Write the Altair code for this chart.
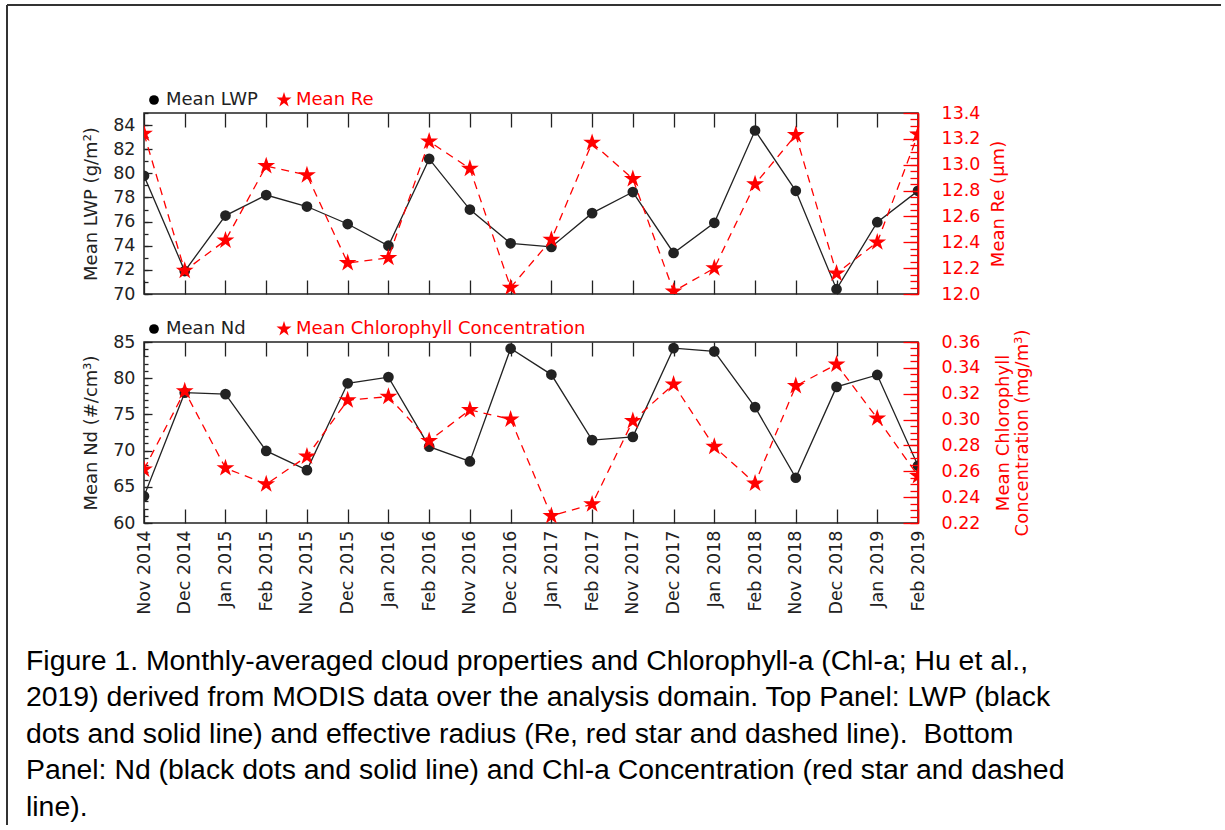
import altair as alt
import pandas as pd

# ---------------- data ----------------
months = ["Nov 2014", "Dec 2014", "Jan 2015", "Feb 2015", "Nov 2015", "Dec 2015",
          "Jan 2016", "Feb 2016", "Nov 2016", "Dec 2016", "Jan 2017", "Feb 2017",
          "Nov 2017", "Dec 2017", "Jan 2018", "Feb 2018", "Nov 2018", "Dec 2018",
          "Jan 2019", "Feb 2019"]
lwp = [79.8, 71.9, 76.5, 78.2, 77.25, 75.8, 74.0, 81.2, 77.0, 74.2,
       73.9, 76.7, 78.45, 73.4, 75.9, 83.55, 78.55, 70.4, 75.95, 78.55]
re = [13.24, 12.18, 12.415, 12.99, 12.92, 12.24, 12.28, 13.18, 12.97, 12.05,
      12.42, 13.17, 12.89, 12.02, 12.20, 12.85, 13.23, 12.16, 12.40, 13.235]
nd = [63.7, 78.0, 77.8, 69.95, 67.3, 79.3, 80.15, 70.55, 68.5, 84.1,
      80.5, 71.45, 71.9, 84.15, 83.7, 76.0, 66.25, 78.8, 80.45, 67.9]
chl = [0.2615, 0.322, 0.2625, 0.250, 0.2715, 0.315, 0.3177, 0.2835, 0.3075, 0.3002,
       0.2255, 0.2345, 0.299, 0.3273, 0.279, 0.2507, 0.326, 0.3427, 0.301, 0.2565]

lwp_major = [70, 72, 74, 76, 78, 80, 82, 84]
lwp_minor = list(range(70, 86))
re_major = [12.0, 12.2, 12.4, 12.6, 12.8, 13.0, 13.2, 13.4]
re_minor = [round(12.0 + 0.05 * k, 2) for k in range(29)]
nd_major = [60, 65, 70, 75, 80, 85]
nd_minor = list(range(60, 86))
chl_major = [0.22, 0.24, 0.26, 0.28, 0.30, 0.32, 0.34, 0.36]
chl_minor = [round(0.22 + 0.005 * k, 3) for k in range(29)]

caption = [
    "Figure 1. Monthly-averaged cloud properties and Chlorophyll-a (Chl-a; Hu et al.,",
    "2019) derived from MODIS data over the analysis domain. Top Panel: LWP (black",
    "dots and solid line) and effective radius (Re, red star and dashed line).\u00a0 Bottom",
    "Panel: Nd (black dots and solid line) and Chl-a Concentration (red star and dashed",
    "line).",
]

# ---------------- style ----------------
FONT = "DejaVu Sans"
CAPFONT = "Liberation Sans"
INK = "#222222"
RED = "#ff0000"
W, H = 774, 181
STAR = ("M0,-1L0.2245,-0.309L0.9511,-0.309L0.3633,0.118L0.5878,0.809L0,0.382"
        "L-0.5878,0.809L-0.3633,0.118L-0.9511,-0.309L-0.2245,-0.309Z")

df = pd.DataFrame({"month": months, "lwp": lwp, "re": re, "nd": nd, "chl": chl})
one = pd.DataFrame({"k": [0]})

xscale = alt.Scale(type="point", padding=0)


def xenc(axis):
    return alt.X("month:N", sort=months, scale=xscale, axis=axis)


def panel(lf, ldom, lmaj, lmin, lfmt, ltitle, rf, rdom, rmaj, rmin, rfmt, rtitle,
          rpad, lname, rname, xlabels, extra):
    base = alt.Chart(df)
    ysc_l = alt.Scale(domain=ldom, nice=False, zero=False)
    ysc_r = alt.Scale(domain=rdom, nice=False, zero=False)

    ax_bottom = alt.Axis(orient="bottom", offset=-14, tickSize=14, tickColor=INK,
                         tickWidth=1.3, domain=False, grid=False, labels=xlabels,
                         labelAngle=270, labelFont=FONT, labelFontSize=17.5,
                         labelColor=INK, labelPadding=7, labelOverlap=False, title=None)
    ax_top = alt.Axis(orient="top", offset=-14, tickSize=14, tickColor=INK,
                      tickWidth=1.3, domain=False, grid=False, labels=False, title=None)

    ax_l_major = alt.Axis(orient="left", offset=-8, tickSize=8, tickColor=INK,
                          tickWidth=1.3, domain=False, grid=False, values=lmaj,
                          format=lfmt, labelFont=FONT, labelFontSize=17.5,
                          labelColor=INK, labelPadding=9, title=ltitle,
                          titleFont=FONT, titleFontSize=18, titleFontWeight="normal",
                          titleColor=INK, titlePadding=12)
    ax_l_minor = alt.Axis(orient="left", offset=-4, tickSize=4, tickColor=INK,
                          tickWidth=1.3, domain=False, grid=False, values=lmin,
                          labels=False, title=None)
    ax_r_major = alt.Axis(orient="right", offset=-15, tickSize=15, tickColor=RED,
                          tickWidth=1.3, domain=False, grid=False, values=rmaj,
                          format=rfmt, labelFont=FONT, labelFontSize=17.5,
                          labelColor=RED, labelPadding=23, title=rtitle,
                          titleFont=FONT, titleFontSize=18, titleFontWeight="normal",
                          titleColor=RED, titleAngle=270, titleBaseline="top",
                          titlePadding=rpad, titleLineHeight=19, zindex=1)
    ax_r_minor = alt.Axis(orient="right", offset=-8, tickSize=8, tickColor=RED,
                          tickWidth=1.3, domain=False, grid=False, values=rmin,
                          labels=False, title=None, zindex=1)
    ax_r_frame = alt.Axis(orient="right", offset=0, ticks=False, labels=False,
                          domain=True, domainColor=RED, domainWidth=1.6,
                          grid=False, title=None, zindex=2)

    a_line = base.mark_line(color=INK, strokeWidth=1.3, clip=True).encode(
        x=xenc(ax_bottom), y=alt.Y(f"{lf}:Q", scale=ysc_l, axis=ax_l_major))
    a_pts = base.mark_point(shape="circle", filled=True, color=INK, opacity=1,
                            size=115, clip=True).encode(
        x=xenc(ax_top), y=alt.Y(f"{lf}:Q", scale=ysc_l, axis=ax_l_minor))
    b_line = base.mark_line(color=RED, strokeWidth=1.3, strokeDash=[8, 6],
                            clip=True).encode(
        x=xenc(None), y=alt.Y(f"{rf}:Q", scale=ysc_r, axis=ax_r_major))
    b_pts = base.mark_point(shape=STAR, filled=True, color=RED, opacity=1,
                            size=350, clip=True).encode(
        x=xenc(None), y=alt.Y(f"{rf}:Q", scale=ysc_r, axis=ax_r_minor))
    b_frame = base.mark_line(opacity=0).encode(
        x=xenc(None), y=alt.Y(f"{rf}:Q", scale=ysc_r, axis=ax_r_frame))

    leg = alt.Chart(one)
    leg_a_sym = leg.mark_point(shape="circle", filled=True, color="black",
                               opacity=1, size=95).encode(
        x=alt.value(10), y=alt.value(-13))
    leg_a_txt = leg.mark_text(text=lname, font=FONT, fontSize=18, color=INK,
                              align="left", baseline="middle").encode(
        x=alt.value(22), y=alt.value(-13))
    leg_b_sym = leg.mark_point(shape=STAR, filled=True, color=RED, opacity=1,
                               size=250).encode(
        x=alt.value(140), y=alt.value(-13))
    leg_b_txt = leg.mark_text(text=rname, font=FONT, fontSize=18, color=RED,
                              align="left", baseline="middle").encode(
        x=alt.value(152), y=alt.value(-13))

    layers = [a_line, a_pts, b_line, b_pts, b_frame,
              leg_a_sym, leg_a_txt, leg_b_sym, leg_b_txt] + extra
    return alt.layer(*layers).resolve_scale(y="independent").resolve_axis(
        x="independent", y="independent").properties(width=W, height=H)


# page frame (the box drawn round the whole figure)
border_top = alt.Chart(one).mark_rule(color="#333333", strokeWidth=2).encode(
    x=alt.value(-137), x2=alt.value(1220 - 143), y=alt.value(-108))
border_left = alt.Chart(one).mark_rule(color="#333333", strokeWidth=2).encode(
    x=alt.value(-137), y=alt.value(-108), y2=alt.value(824 - 112))

cap = alt.Chart(one).mark_text(font=CAPFONT, fontSize=28.4, color="black",
                               align="left", baseline="top", lineHeight=36.4).encode(
    x=alt.value(25 - 143), y=alt.value(306), text=alt.value(caption))

top = panel("lwp", [70, 85], lwp_major, lwp_minor, "d", "Mean LWP (g/m²)",
            "re", [12.0, 13.4], re_major, re_minor, ".1f", "Mean Re (μm)", 10,
            "Mean LWP", "Mean Re", False, [border_top, border_left])
bottom = panel("nd", [60, 85], nd_major, nd_minor, "d", "Mean Nd (#/cm³)",
               "chl", [0.22, 0.36], chl_major, chl_minor, ".2f",
               ["Mean Chlorophyll", "Concentration (mg/m³)"], -4,
               "Mean Nd", "Mean Chlorophyll Concentration", True, [cap])

chart = alt.vconcat(top, bottom, spacing=48, bounds="flush").properties(
    padding={"left": 5, "top": 3, "right": 0, "bottom": 0},
    background="white",
).configure_view(stroke=INK, strokeWidth=1.5)

chart.save("out.html", embed_options={"renderer": "svg", "actions": False})
